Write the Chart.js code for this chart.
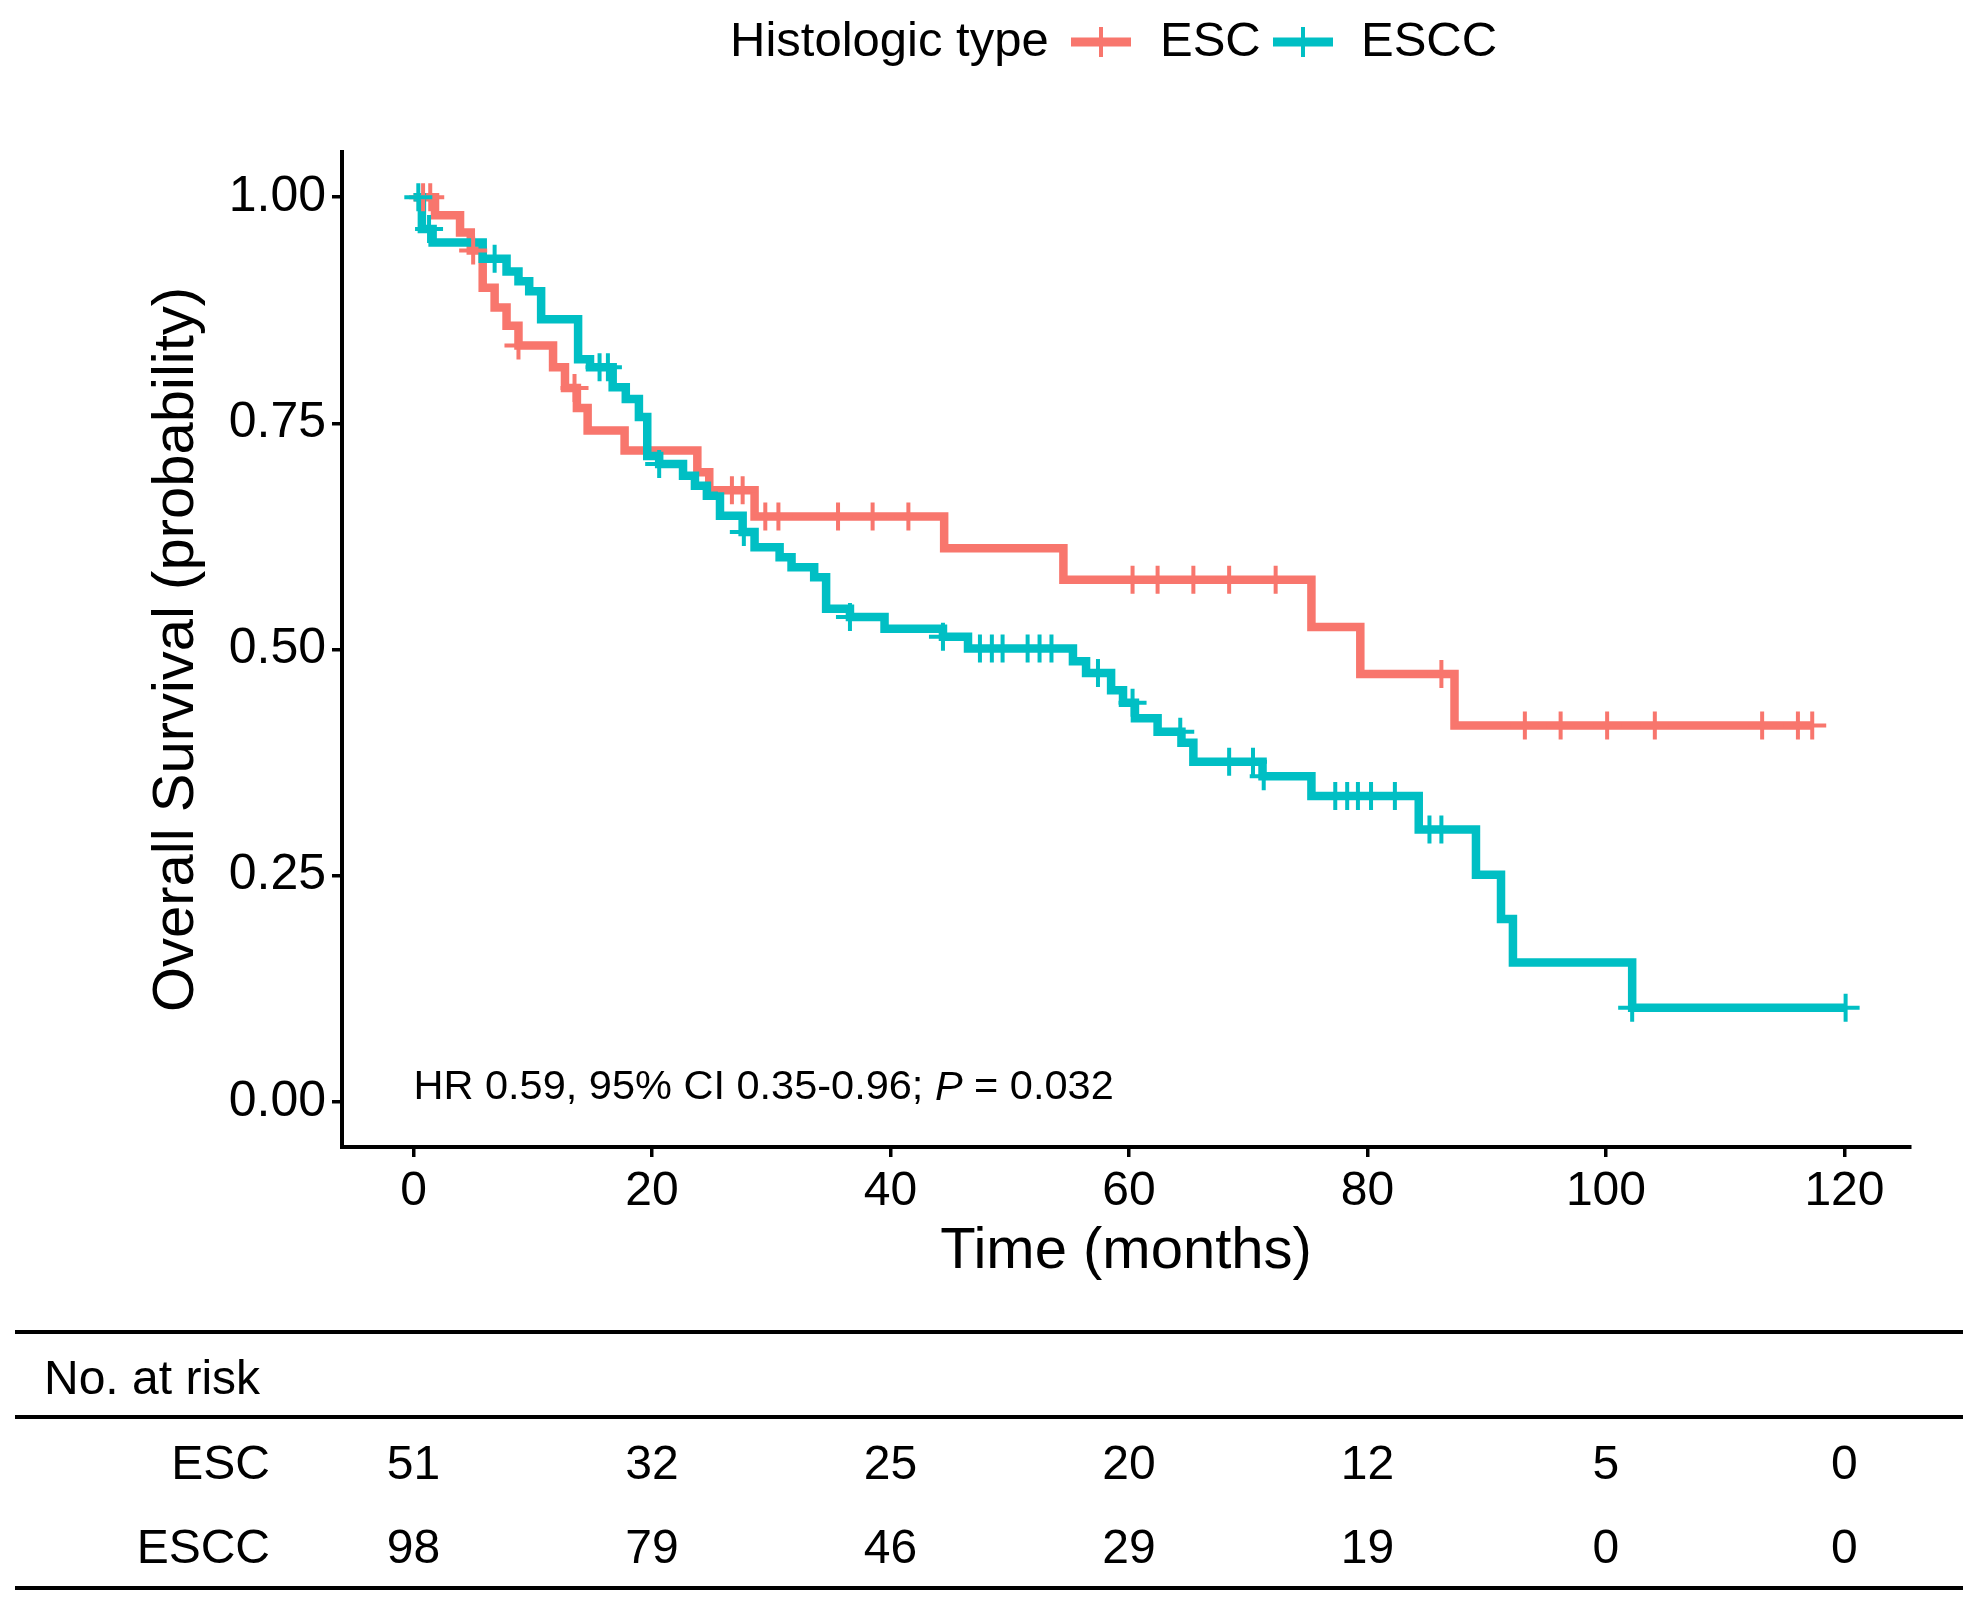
<!DOCTYPE html>
<html>
<head>
<meta charset="utf-8">
<script src="https://cdn.jsdelivr.net/npm/chart.js@4.4.1/dist/chart.umd.min.js"></script>
<style>
  html, body { margin: 0; padding: 0; background: #fff; }
  canvas { display: block; }
</style>
</head>
<body>
<canvas id="km-chart" width="1974" height="1606"></canvas>
<script>
// ESC curve: step times (months) and survival after each step
var escTime = [0, 1.8, 3.9, 4.8, 5.8, 6.8, 7.8, 8.8, 11.7, 12.7, 13.7, 14.6, 17.7, 23.8, 24.8, 28.6, 44.5, 54.5, 75.3, 79.4, 87.3, 117.3];
var escSurv = [1.0, 0.980, 0.961, 0.941, 0.900, 0.878, 0.858, 0.836, 0.812, 0.789, 0.767, 0.742, 0.720, 0.696, 0.676, 0.647, 0.612, 0.577, 0.525, 0.473, 0.416, 0.416];
var escCensor = [0.8, 1.4, 5.0, 8.8, 13.5, 26.7, 27.6, 29.5, 30.6, 35.6, 38.5, 41.5, 60.3, 62.4, 65.4, 68.4, 72.3, 86.2, 93.2, 96.2, 100.1, 104.1, 113.1, 116.1, 117.3];

// ESCC curve
var esccTime = [0, 0.7, 1.6, 5.8, 7.8, 8.8, 9.7, 10.7, 13.8, 14.8, 16.7, 17.8, 18.9, 19.6, 20.6, 22.6, 23.6, 24.6, 25.7, 27.6, 28.6, 30.7, 31.7, 33.6, 34.6, 36.6, 39.5, 44.4, 46.5, 55.3, 56.4, 58.5, 59.5, 60.5, 62.4, 64.4, 65.4, 71.2, 75.3, 84.3, 89.1, 91.2, 92.2, 102.2, 120.1];
var esccSurv = [1.0, 0.965, 0.950, 0.932, 0.918, 0.907, 0.896, 0.865, 0.821, 0.812, 0.790, 0.777, 0.757, 0.714, 0.705, 0.692, 0.681, 0.670, 0.648, 0.630, 0.613, 0.602, 0.591, 0.580, 0.545, 0.536, 0.523, 0.514, 0.501, 0.487, 0.474, 0.455, 0.441, 0.424, 0.409, 0.397, 0.376, 0.360, 0.338, 0.301, 0.251, 0.202, 0.154, 0.104, 0.104];
var esccCensor = [0.4, 1.3, 6.8, 15.6, 16.3, 20.6, 27.7, 36.6, 44.4, 47.5, 48.5, 49.4, 51.5, 52.5, 53.5, 57.4, 60.3, 64.3, 68.4, 70.4, 71.3, 77.3, 78.3, 79.2, 80.3, 82.3, 85.2, 86.2, 102.2, 120.1];

// axes and table
var xTicks = [0, 20, 40, 60, 80, 100, 120];
var yTicks = [0, 0.25, 0.5, 0.75, 1.0];
var groups = ["ESC", "ESCC"];
var riskTimes = [0, 20, 40, 60, 80, 100, 120];
var riskEsc = [51, 32, 25, 20, 12, 5, 0];
var riskEscc = [98, 79, 46, 29, 19, 0, 0];

var red = "#F8766D";
var teal = "#00BFC4";
var fontName = "'Liberation Sans', Arial, sans-serif";

function toPoints(times, surv) {
    var pts = [];
    for (var i = 0; i < times.length; i++) {
        pts.push({ x: times[i], y: surv[i] });
    }
    return pts;
}

// censor marks sit on the curve level at that time
function censorPoints(censor, times, surv) {
    var pts = [];
    for (var i = 0; i < censor.length; i++) {
        var lvl = surv[0];
        for (var j = 0; j < times.length; j++) {
            if (times[j] <= censor[i]) lvl = surv[j];
        }
        pts.push({ x: censor[i], y: lvl });
    }
    return pts;
}

var extras = {
    id: "extras",
    afterDraw: function (chart) {
        var ctx = chart.ctx;
        var xs = chart.scales.x;
        ctx.save();
        ctx.fillStyle = "#000";
        ctx.textBaseline = "middle";

        // legend
        ctx.font = "49px " + fontName;
        ctx.textAlign = "left";
        ctx.fillText("Histologic type", 730, 42);
        var keys = [[1071, red, groups[0], 1160], [1273, teal, groups[1], 1361]];
        keys.forEach(function (k) {
            ctx.strokeStyle = k[1];
            ctx.lineWidth = 9;
            ctx.beginPath();
            ctx.moveTo(k[0], 42);
            ctx.lineTo(k[0] + 60, 42);
            ctx.stroke();
            ctx.lineWidth = 4;
            ctx.beginPath();
            ctx.moveTo(k[0] + 30, 27);
            ctx.lineTo(k[0] + 30, 57);
            ctx.stroke();
            ctx.fillText(k[2], k[3], 42);
        });

        // HR annotation
        var ax = xs.getPixelForValue(0);
        var ay = 1088;
        var part1 = "HR 0.59, 95% CI 0.35-0.96; ";
        ctx.font = "41.5px " + fontName;
        ctx.fillText(part1, ax, ay);
        ax += ctx.measureText(part1).width;
        ctx.font = "italic 41.5px " + fontName;
        ctx.fillText("P", ax, ay);
        ax += ctx.measureText("P").width;
        ctx.font = "41.5px " + fontName;
        ctx.fillText(" = 0.032", ax, ay);

        // risk table
        ctx.strokeStyle = "#000";
        ctx.lineWidth = 4;
        [1332, 1417, 1588].forEach(function (y) {
            ctx.beginPath();
            ctx.moveTo(15, y);
            ctx.lineTo(1963, y);
            ctx.stroke();
        });
        ctx.font = "48px " + fontName;
        ctx.fillText("No. at risk", 44, 1381);
        ctx.textAlign = "right";
        ctx.fillText(groups[0], 270, 1466);
        ctx.fillText(groups[1], 270, 1550);
        ctx.textAlign = "center";
        for (var i = 0; i < riskTimes.length; i++) {
            var px = xs.getPixelForValue(riskTimes[i]);
            ctx.fillText(String(riskEsc[i]), px, 1466);
            ctx.fillText(String(riskEscc[i]), px, 1550);
        }
        ctx.restore();
    }
};

var axisFont = { family: fontName, size: 48 };
var yAxisFont = { family: fontName, size: 50 };
var titleFont = { family: fontName, size: 58, lineHeight: 1.2 };

var chart = new Chart(document.getElementById("km-chart"), {
    type: "line",
    data: {
        datasets: [
            {
                label: groups[1] + " censor",
                type: "scatter",
                data: censorPoints(esccCensor, esccTime, esccSurv),
                pointStyle: "cross",
                pointRadius: 14,
                pointBorderWidth: 4,
                borderColor: teal,
                order: 1
            },
            {
                label: groups[0] + " censor",
                type: "scatter",
                data: censorPoints(escCensor, escTime, escSurv),
                pointStyle: "cross",
                pointRadius: 14,
                pointBorderWidth: 4,
                borderColor: red,
                order: 2
            },
            {
                label: groups[1],
                data: toPoints(esccTime, esccSurv),
                stepped: "before",
                borderColor: teal,
                borderWidth: 8.5,
                pointRadius: 0,
                fill: false,
                order: 3
            },
            {
                label: groups[0],
                data: toPoints(escTime, escSurv),
                stepped: "before",
                borderColor: red,
                borderWidth: 8.5,
                pointRadius: 0,
                fill: false,
                order: 4
            }
        ]
    },
    options: {
        responsive: false,
        animation: false,
        devicePixelRatio: 1,
        layout: { padding: { left: 0, top: 152, right: 64, bottom: 299 } },
        plugins: {
            legend: { display: false },
            tooltip: { enabled: false }
        },
        scales: {
            x: {
                type: "linear",
                min: -6,
                max: 125.5,
                afterBuildTicks: function (s) {
                    s.ticks = xTicks.map(function (v) { return { value: v }; });
                },
                afterFit: function (s) { s.height = 160; },
                ticks: { font: axisFont, color: "#000", padding: 6, maxRotation: 0 },
                grid: { drawOnChartArea: false, drawTicks: true, tickLength: 10, color: "#000", lineWidth: 3.5 },
                border: { display: true, color: "#000", width: 4 },
                title: { display: true, text: "Time (months)", font: titleFont, color: "#000", padding: { top: 0, bottom: 20 } }
            },
            y: {
                type: "linear",
                min: -0.05,
                max: 1.05,
                afterBuildTicks: function (s) {
                    s.ticks = yTicks.map(function (v) { return { value: v }; });
                },
                afterFit: function (s) { s.width = 342; },
                ticks: {
                    font: yAxisFont,
                    color: "#000",
                    padding: 6,
                    callback: function (v) { return Number(v).toFixed(2); }
                },
                grid: { drawOnChartArea: false, drawTicks: true, tickLength: 10, color: "#000", lineWidth: 3.5 },
                border: { display: true, color: "#000", width: 4 },
                title: { display: true, text: "Overall Survival (probability)", font: titleFont, color: "#000", padding: { top: 142, bottom: 0 } }
            }
        }
    },
    plugins: [extras]
});
</script>
</body>
</html>
